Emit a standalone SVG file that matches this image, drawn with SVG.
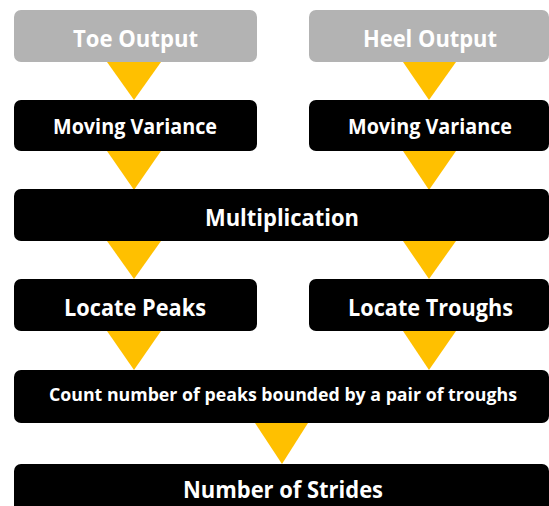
<svg xmlns="http://www.w3.org/2000/svg" width="549" height="506" viewBox="0 0 549 506">
<style>
.box{fill:#000}
.grey{fill:#b3b3b3}
.arr{fill:#ffc000}
text{font-family:"Open Sans","Liberation Sans",sans-serif;font-weight:bold;fill:#fff;text-anchor:middle}
.t22{font-size:24px}
.t20{font-size:21px}
.t16{font-size:17.5px}
</style>
<rect width="549" height="506" fill="#fff"/>
<g id="connectors">
<polygon class="arr" points="107,62 161,62 134,100"/>
<polygon class="arr" points="403,62 456,62 429,100"/>
<polygon class="arr" points="107,151 161,151 134,190"/>
<polygon class="arr" points="403,151 456,151 429,190"/>
<polygon class="arr" points="107,241 161,241 134,279"/>
<polygon class="arr" points="403,241 456,241 429,279"/>
<polygon class="arr" points="107,331 161,331 134,370"/>
<polygon class="arr" points="403,331 456,331 429,370"/>
<polygon class="arr" points="255,423 308,423 282,464"/>
</g>
<g id="toe">
<rect class="grey" x="14" y="10" width="243" height="52" rx="7"/>
<text class="t22" x="135.5" y="47" textLength="125" lengthAdjust="spacingAndGlyphs">Toe Output</text>
</g>
<g id="heel">
<rect class="grey" x="309" y="10" width="240" height="52" rx="7"/>
<text class="t22" x="430" y="47" textLength="134" lengthAdjust="spacingAndGlyphs">Heel Output</text>
</g>
<g id="mv-left">
<rect class="box" x="14" y="100" width="243" height="51" rx="7"/>
<text class="t20" x="135" y="134" textLength="164" lengthAdjust="spacingAndGlyphs">Moving Variance</text>
</g>
<g id="mv-right">
<rect class="box" x="309" y="100" width="240" height="51" rx="7"/>
<text class="t20" x="430" y="134" textLength="164" lengthAdjust="spacingAndGlyphs">Moving Variance</text>
</g>
<g id="mult">
<rect class="box" x="14" y="189" width="535" height="52" rx="7"/>
<text class="t22" x="282" y="226" textLength="154" lengthAdjust="spacingAndGlyphs">Multiplication</text>
</g>
<g id="peaks">
<rect class="box" x="14" y="279" width="243" height="52" rx="7"/>
<text class="t22" x="135" y="316" textLength="142" lengthAdjust="spacingAndGlyphs">Locate Peaks</text>
</g>
<g id="troughs">
<rect class="box" x="309" y="279" width="240" height="52" rx="7"/>
<text class="t22" x="430.5" y="316" textLength="165" lengthAdjust="spacingAndGlyphs">Locate Troughs</text>
</g>
<g id="count">
<rect class="box" x="14" y="370" width="535" height="53" rx="7"/>
<text class="t16" x="283" y="401" textLength="468" lengthAdjust="spacingAndGlyphs">Count number of peaks bounded by a pair of troughs</text>
</g>
<g id="strides">
<rect class="box" x="14" y="464" width="535" height="52" rx="7"/>
<text class="t22" x="283" y="498" textLength="200" lengthAdjust="spacingAndGlyphs">Number of Strides</text>
</g>
</svg>
